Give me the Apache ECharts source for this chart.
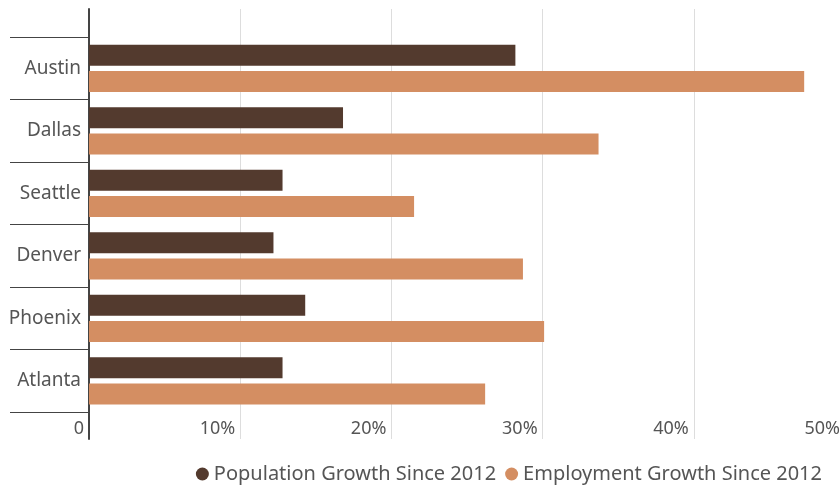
<!DOCTYPE html>
<html>
<head>
<meta charset="utf-8">
<script src="https://cdn.jsdelivr.net/npm/echarts@6/dist/echarts.min.js"></script>
<style>html,body{margin:0;padding:0;background:#fff}#c{width:840px;height:485px}</style>
</head>
<body>
<div id="c"></div>
<script>
var categories = ['Austin', 'Dallas', 'Seattle', 'Denver', 'Phoenix', 'Atlanta'];
var populationGrowth = [28.2, 16.8, 12.8, 12.2, 14.3, 12.8];
var employmentGrowth = [47.3, 33.7, 21.5, 28.7, 30.1, 26.2];
var xTicks = [0, 10, 20, 30, 40, 50];
var seriesNames = ['Population Growth Since 2012', 'Employment Growth Since 2012'];

var chart = echarts.init(document.getElementById('c'));
var labelColor = '#555';
chart.setOption({
  animation: false,
  textStyle: { fontFamily: 'Noto Sans' },
  grid: [
    { left: 89, width: 756, top: 9, bottom: 46, outerBoundsMode: 'none', containLabel: false },
    { left: 89, width: 756, top: 37, bottom: 73, outerBoundsMode: 'none', containLabel: false }
  ],
  xAxis: [
    {
      gridIndex: 0, type: 'value', min: xTicks[0], max: xTicks[xTicks.length - 1], interval: 10,
      axisLine: { show: false }, axisTick: { show: false },
      splitLine: { show: true, lineStyle: { color: '#dddddd', width: 1 } },
      axisLabel: {
        inside: true, margin: 1, align: 'right', padding: [0, 5, 0, 0],
        color: labelColor, fontSize: 18, fontFamily: 'Noto Sans',
        formatter: function (v) { return v === 0 ? '0' : v + '%'; }
      }
    },
    {
      gridIndex: 1, type: 'value', min: xTicks[0], max: xTicks[xTicks.length - 1],
      show: false
    }
  ],
  yAxis: [
    {
      gridIndex: 0, type: 'value',
      axisLine: { show: true, lineStyle: { color: '#444', width: 2 } },
      axisTick: { show: false }, axisLabel: { show: false }, splitLine: { show: false }
    },
    {
      gridIndex: 1, type: 'category', data: categories, inverse: true,
      axisLine: { show: false },
      axisTick: { show: true, length: 79, lineStyle: { color: '#444', width: 1 } },
      axisLabel: { margin: 8, color: labelColor, fontSize: 19, fontFamily: 'Noto Sans' },
      splitLine: { show: false }
    }
  ],
  legend: {
    right: 13, top: 459,
    icon: 'circle', itemWidth: 13, itemHeight: 13, itemGap: 9,
    textStyle: { color: labelColor, fontSize: 20, fontFamily: 'Noto Sans' },
    data: seriesNames
  },
  series: [
    {
      name: seriesNames[0], type: 'bar', xAxisIndex: 1, yAxisIndex: 1,
      data: populationGrowth, barWidth: 21, barGap: '25%',
      itemStyle: { color: '#533a2e' }
    },
    {
      name: seriesNames[1], type: 'bar', xAxisIndex: 1, yAxisIndex: 1,
      data: employmentGrowth, barWidth: 21, barGap: '25%',
      itemStyle: { color: '#d48e62' }
    }
  ]
});
</script>
</body>
</html>
